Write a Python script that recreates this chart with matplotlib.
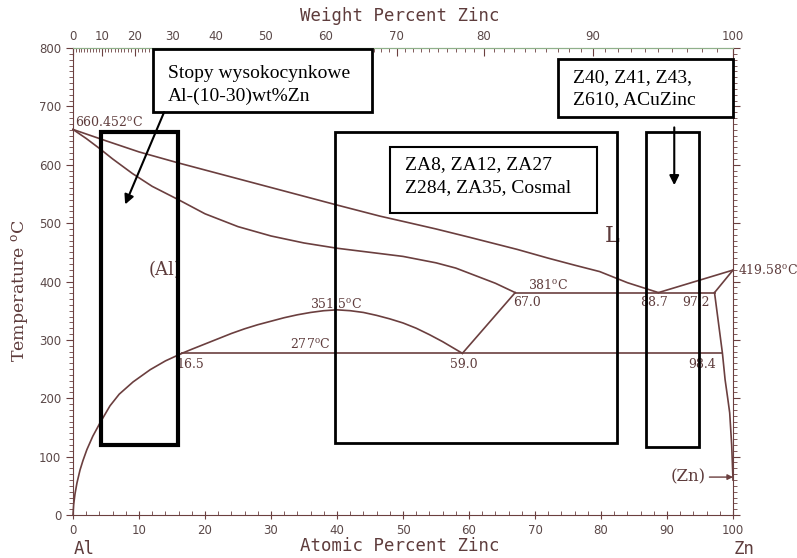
import numpy as np
import matplotlib
matplotlib.use('Agg')
import matplotlib.pyplot as plt
from matplotlib.patches import Rectangle
from matplotlib.ticker import MultipleLocator

plt.rcParams['mathtext.default'] = 'regular'

# --- dane diagramu Al-Zn (procent atomowy Zn, temperatura w C) ---
liq_al_x = [0, 5, 10, 16, 20, 25, 30, 35, 40, 46.5, 50, 55, 60, 67.3, 72, 76, 79.8, 84, 88.7]
liq_al_T = [660.452, 641, 622, 603, 591, 576, 561, 546, 531, 512, 503, 490, 476, 455, 440, 428, 417, 398, 381]

sol_al_x = [0, 2, 4, 6, 9, 12, 16, 20, 25, 30, 35, 40, 45, 50, 55, 58, 61, 64, 67.0]
sol_al_T = [660.452, 645, 628, 610, 585, 563, 540, 516, 494, 478, 466, 457, 450, 443, 432, 423, 410, 397, 381]

solv_al_x = [0, 0.1, 0.3, 0.6, 1.06, 1.5, 2.1, 3, 4.1, 5.6, 7, 9.1, 11.7, 14, 16.5]
solv_al_T = [0, 18, 36, 55, 77, 93, 112, 135, 158, 187, 207, 228, 249, 264, 277]

dome_x = [16.5, 18, 20, 22, 24, 26, 28, 30, 32, 34, 36, 38, 40, 42, 44, 46, 48, 50,
          52, 54, 56, 57.5, 59.0]
dome_T = [277, 284, 293, 302, 311, 319, 326, 332, 338, 343, 347, 350, 351.5, 350, 347,
          342, 336, 329, 320, 309, 297, 287, 277]

mono_x = [59.0, 67.0]
mono_T = [277, 381]

eut_x = [67.0, 97.2]
eut_T = [381, 381]

eutd_x = [16.5, 98.4]
eutd_T = [277, 277]

liq_zn_x = [88.7, 100]
liq_zn_T = [381, 419.58]

sol_zn_x = [97.2, 100]
sol_zn_T = [381, 419.58]

solv_zn_x = [97.2, 98.4, 98.8, 99.2, 99.5, 99.8, 100]
solv_zn_T = [381, 277, 232, 200, 175, 120, 60]

M_ZN = 65.38
M_AL = 26.98


def at2wt(a):
    a = np.asarray(a, dtype=float)
    return 100 * a * M_ZN / (a * M_ZN + (100 - a) * M_AL)


def wt2at(w):
    w = np.asarray(w, dtype=float)
    return 100 * (w / M_ZN) / (w / M_ZN + (100 - w) / M_AL)


brown = '#6b3f3f'
txtc = '#5e3c3c'
tickc = '#5a4848'

fig = plt.figure(figsize=(7.97, 5.58), dpi=100)
ax = fig.add_axes([0.0916, 0.077, 0.8281, 0.837])

for xs, ts in [(liq_al_x, liq_al_T), (sol_al_x, sol_al_T), (solv_al_x, solv_al_T),
               (dome_x, dome_T), (mono_x, mono_T), (eut_x, eut_T), (eutd_x, eutd_T),
               (liq_zn_x, liq_zn_T), (sol_zn_x, sol_zn_T), (solv_zn_x, solv_zn_T)]:
    ax.plot(xs, ts, color=brown, lw=1.2, clip_on=False)

ax.set_xlim(0, 100)
ax.set_ylim(0, 800)

# osie
ax.set_xticks(range(0, 101, 10))
ax.set_yticks(range(0, 801, 100))
ax.xaxis.set_minor_locator(MultipleLocator(2))
ax.yaxis.set_minor_locator(MultipleLocator(10))
ax.tick_params(axis='x', which='major', direction='inout', length=6, color=brown,
               labelsize=8.5, labelcolor=tickc, top=False)
ax.tick_params(axis='x', which='minor', direction='in', length=3, color=brown, top=False)
ax.tick_params(axis='y', which='major', direction='out', length=5, color=brown,
               labelsize=8.5, labelcolor=tickc, right=True)
ax.tick_params(axis='y', which='minor', direction='out', length=3, color=brown, right=True)
for s in ['left', 'bottom', 'right']:
    ax.spines[s].set_color(brown)
ax.spines['top'].set_color('#8fb08a')

sec = ax.secondary_xaxis('top', functions=(at2wt, wt2at))
sec.set_xticks(range(0, 101, 10))
sec.xaxis.set_minor_locator(MultipleLocator(1))
sec.tick_params(axis='x', which='major', direction='in', length=6, color=brown,
                labelsize=8.5, labelcolor=tickc)
sec.tick_params(axis='x', which='minor', direction='in', length=3, color=brown)
sec.spines['top'].set_color('#8fb08a')

fig.text(0.502, 0.972, 'Weight Percent Zinc', family='DejaVu Sans Mono', fontsize=12.5,
         color=txtc, ha='center', va='center')
fig.text(0.502, 0.022, 'Atomic Percent Zinc', family='DejaVu Sans Mono', fontsize=12.5,
         color=txtc, ha='center', va='center')
ax.text(-0.08, 0.48, 'Temperature $^{o}$C', transform=ax.transAxes, rotation=90,
        family='DejaVu Serif', fontsize=12.5, color=txtc, ha='center', va='center')
fig.text(0.106, 0.016, 'Al', family='DejaVu Sans Mono', fontsize=12.5, color=txtc,
         ha='center', va='center')
fig.text(0.934, 0.016, 'Zn', family='DejaVu Sans Mono', fontsize=12.5, color=txtc,
         ha='center', va='center')

# opisy na diagramie
lab = dict(family='DejaVu Serif', fontsize=9, color=txtc, va='center')
ax.text(0.3, 673, '660.452$^{o}$C', **lab)
ax.text(35.9, 362, '351.5$^{o}$C', **lab)
ax.text(32.9, 293, '277$^{o}$C', **lab)
ax.text(15.7, 257, '16.5', **lab)
ax.text(59.2, 257, '59.0', ha='center', **lab)
ax.text(68.9, 394, '381$^{o}$C', **lab)
ax.text(66.7, 364, '67.0', **lab)
ax.text(88.0, 364, '88.7', ha='center', **lab)
ax.text(94.4, 364, '97.2', ha='center', **lab)
ax.text(95.3, 257, '98.4', ha='center', **lab)
ax.text(100.75, 420, '419.58$^{o}$C', clip_on=False, **lab)
ax.text(13.9, 420, '(Al)', family='DejaVu Serif', fontsize=13, color=txtc,
        ha='center', va='center', zorder=1)
ax.text(81.7, 478, 'L', family='DejaVu Serif', fontsize=16, color=txtc,
        ha='center', va='center')
ax.annotate('(Zn)', xy=(100, 65), xytext=(95.8, 65), ha='right', va='center',
            family='DejaVu Serif', fontsize=12, color=txtc,
            arrowprops=dict(arrowstyle='-|>', color=brown, lw=1, mutation_scale=8,
                            shrinkA=1, shrinkB=0))

# ramki stopow
ax.add_patch(Rectangle((4.24, 120), 15.9 - 4.24, 656 - 120, fill=False, lw=3,
                       ec='black', zorder=5, clip_on=False))
ax.add_patch(Rectangle((39.7, 124), 82.4 - 39.7, 656 - 124, fill=False, lw=2,
                       ec='black', zorder=5, clip_on=False))
ax.add_patch(Rectangle((86.8, 117), 94.8 - 86.8, 656 - 117, fill=False, lw=2,
                       ec='black', zorder=5, clip_on=False))

# pola tekstowe
ax.add_patch(Rectangle((12.1, 690), 45.3 - 12.1, 798 - 690, fc='white', lw=2,
                       ec='black', zorder=6, clip_on=False))
ax.add_patch(Rectangle((48.0, 518), 79.4 - 48.0, 630 - 518, fc='white', lw=1.5,
                       ec='black', zorder=6, clip_on=False))
ax.add_patch(Rectangle((73.5, 681.5), 100 - 73.5, 781 - 681.5, fc='white', lw=2,
                       ec='black', zorder=6, clip_on=False))

box = dict(family='Liberation Serif', fontsize=14, color='black', va='center', zorder=7)
ax.text(14.4, 756, 'Stopy wysokocynkowe', **box)
ax.text(14.4, 718, 'Al-(10-30)wt%Zn', **box)
ax.text(50.3, 601, 'ZA8, ZA12, ZA27', **box)
ax.text(50.3, 561, 'Z284, ZA35, Cosmal', **box)
ax.text(75.8, 750, 'Z40, Z41, Z43,', **box)
ax.text(75.8, 711, 'Z610, ACuZinc', **box)

ax.annotate('', xy=(7.9, 532), xytext=(13.8, 690),
            arrowprops=dict(arrowstyle='-|>', color='black', lw=1.5,
                            mutation_scale=14, shrinkA=0, shrinkB=0), zorder=7)
ax.annotate('', xy=(91.1, 565), xytext=(91.1, 664),
            arrowprops=dict(arrowstyle='-|>', color='black', lw=1.5,
                            mutation_scale=14, shrinkA=0, shrinkB=0), zorder=7)

fig.savefig('out.png', dpi=100)
